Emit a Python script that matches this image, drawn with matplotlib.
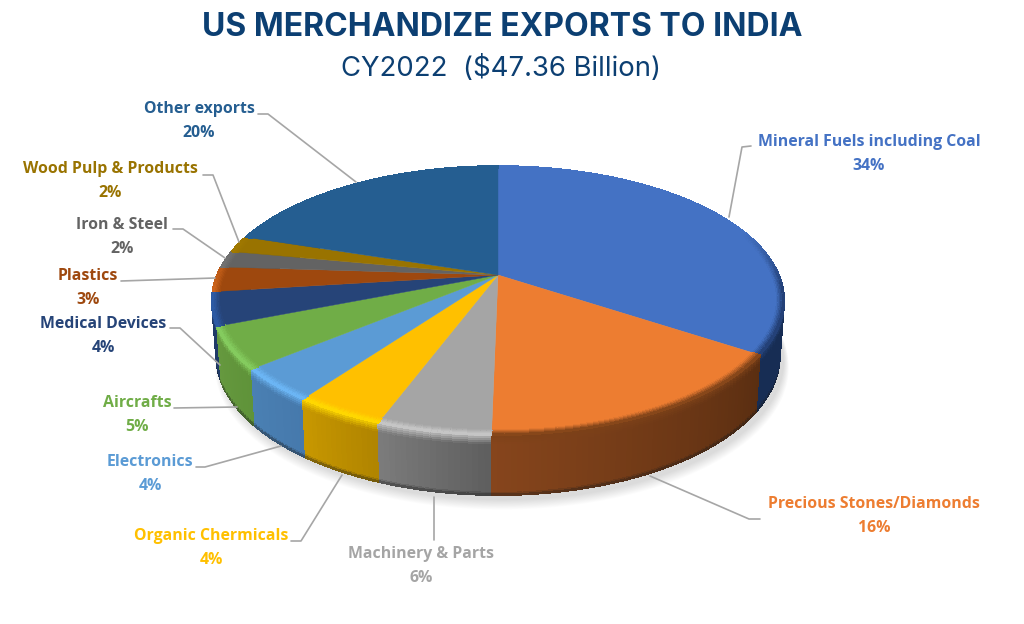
import numpy as np
import matplotlib
matplotlib.use("Agg")
import matplotlib.pyplot as plt
from matplotlib.collections import PolyCollection
from matplotlib.colors import to_rgb
from matplotlib.transforms import Transform

# ---------- data ----------
categories = ["Mineral Fuels including Coal", "Precious Stones/Diamonds", "Machinery & Parts",
              "Organic Chermicals", "Electronics", "Aircrafts", "Medical Devices",
              "Plastics", "Iron & Steel", "Wood Pulp & Products", "Other exports"]
share_labels = ["34%", "16%", "6%", "4%", "4%", "5%", "4%", "3%", "2%", "2%", "20%"]
# sizes (the labels above are rounded)
shares = [34.3, 16.0, 5.4, 4.3, 4.0, 5.0, 4.0, 3.0, 2.0, 2.0, 20.0]

# ---------- styles ----------
face_colors = ["#4472C4", "#ED7D31", "#A5A5A5", "#FFC000", "#5B9BD5", "#70AD47",
               "#264478", "#9E480E", "#636363", "#997300", "#255E91"]
wall_start = ["#172D54", "#5A2E11", "#5E5E5E", "#B08400", "#4679AC", "#5F9339",
              "#1F3A68", "#7A380B", "#4E4E4E", "#775900", "#1C4970"]
wall_end = ["#172D54", "#86451C", "#7C7C7C", "#C89800", "#4A80B3", "#66993F",
            "#1F3A68", "#7A380B", "#4E4E4E", "#775900", "#1C4970"]
rim_colors = ["#203C70", "#7C4118", "#C8C8C8", "#FFD900", "#6DB8F7", "#86CE60",
              "#2E5CA8", "#D0661C", "#808080", "#B88A00", "#2E72B0"]

# ---------- layout (pixels) ----------
label_pos = [(869, 142), (874, 504), (421.5, 554), (211, 536), (150, 462), (137, 403),
             (103, 324), (88, 276), (122, 225), (110, 169), (199, 109)]
LINE_GAP = 24
leaders = [[(751, 146), (742, 147), (729, 217)],
           [(650, 476), (749, 519), (760, 519)],
           [(434, 497), (434, 540)],
           [(342, 475), (301, 541), (291, 541)],
           [(281, 446), (205, 467), (196, 467)],
           [(237, 407), (174, 408)],
           [(170, 328), (180, 328), (220, 365)],
           [(121, 281), (215, 278)],
           [(173, 229), (183, 229), (225, 258)],
           [(203, 175), (213, 175), (239, 242)],
           [(258, 114), (268, 114), (356, 182)]]
CX, CY, A, B, K = 498.0, 275.0, 281.0, 129.7, 0.19


def project(u, v):
    d = 1 + K * v
    return CX + A * u / d, CY - B * v / d


def bottom(x, y):
    return CX + 0.985 * (x - CX), y + 54 + 6 * (y - CY) / 160


class Tilt(Transform):
    input_dims = 2
    output_dims = 2
    is_separable = False
    has_inverse = False

    def transform_non_affine(self, values):
        values = np.asarray(values, dtype=float)
        x, y = project(values[:, 0], values[:, 1])
        return np.column_stack([x, y])


def mix(a, b, t):
    return tuple((1 - t) * p + t * q for p, q in zip(a, b))


plt.rcParams["font.family"] = ["Open Sans", "DejaVu Sans"]
fig = plt.figure(figsize=(10.24, 6.24), dpi=100, facecolor="white")
ax = fig.add_axes([0, 0, 1, 1])

wedges, _ = ax.pie(shares, colors=face_colors, startangle=90, counterclock=False,
                   wedgeprops={"linewidth": 0.3})
ax.set_aspect("auto")
ax.set_xlim(0, 1024)
ax.set_ylim(624, 0)
ax.axis("off")
tilt = Tilt() + ax.transData
for w, c in zip(wedges, face_colors):
    w.set_transform(tilt)
    w.set_edgecolor(c)
    w.set_zorder(2)

# soft shadow under the disc
t = np.radians(np.linspace(0, 360, 241))
sx, sy = bottom(*project(np.cos(t), np.sin(t)))
for i in range(12):
    g = 1 + 0.0016 * i
    ax.fill(CX + 4 + g * (sx - CX), CY + 5 + g * (sy - CY) + i * 0.5,
            color="#808080", alpha=0.025, lw=0, zorder=0.2)

# side wall and bevel, following each wedge's own angles
wall_items, rim_polys, rim_cols = [], [], []
levels = [0, 2, 4, 6, 8, 10, 14, 57.5, 59, 60]
for k, w in enumerate(wedges):
    a1, a2 = w.theta1, w.theta2
    n = max(int(a2 - a1), 2)
    th = np.linspace(a2, a1, n + 1)   # clockwise order, as the shares run
    fc, s, e, rc = map(lambda h: to_rgb(h[k]), (face_colors, wall_start, wall_end, rim_colors))
    for i in range(n):
        t0, t1 = np.radians(th[i]), np.radians(th[i + 1])
        f = (i + 0.5) / n
        base = mix(s, e, f)
        vm = np.sin((t0 + t1) / 2)
        weight = float(np.clip((0.35 - vm) / 0.45, 0, 1))
        hl = mix(fc, rc, weight)
        x0, y0 = project(np.cos(t0), np.sin(t0))
        x1, y1 = project(np.cos(t1), np.sin(t1))
        b0 = bottom(x0, y0)
        b1 = bottom(x1, y1)
        for j in range(len(levels) - 1):
            p, q = levels[j] / 60, levels[j + 1] / 60
            quad = [(x0 + p * (b0[0] - x0), y0 + p * (b0[1] - y0)),
                    (x1 + p * (b1[0] - x1), y1 + p * (b1[1] - y1)),
                    (x1 + q * (b1[0] - x1), y1 + q * (b1[1] - y1)),
                    (x0 + q * (b0[0] - x0), y0 + q * (b0[1] - y0))]
            m = (levels[j] + levels[j + 1]) / 2
            if m < 14:
                col = mix(hl, base, min(m / 10, 1))
            elif m > 58:
                col = mix(base, (0.1, 0.1, 0.1), 0.4 if m > 59 else 0.15)
            else:
                col = base
            wall_items.append(((y0 + y1) / 2 + j * 0.01, quad, col))
        radii = [0.975, 0.98, 0.985, 0.99, 0.995, 1.0]
        for j in range(len(radii) - 1):
            r0, r1 = radii[j], radii[j + 1]
            quad = [project(r0 * np.cos(t0), r0 * np.sin(t0)),
                    project(r0 * np.cos(t1), r0 * np.sin(t1)),
                    project(r1 * np.cos(t1), r1 * np.sin(t1)),
                    project(r1 * np.cos(t0), r1 * np.sin(t0))]
            rim_polys.append(quad)
            rim_cols.append(mix(fc, hl, (j + 0.5) / (len(radii) - 1)))

wall_items.sort(key=lambda item: item[0])
wall_polys = [item[1] for item in wall_items]
wall_cols = [item[2] for item in wall_items]
ax.add_collection(PolyCollection(wall_polys, facecolors=wall_cols, edgecolors=wall_cols,
                                 linewidths=0.5, antialiaseds=False, zorder=1))
ax.add_collection(PolyCollection(rim_polys, facecolors=rim_cols, edgecolors=rim_cols,
                                 linewidths=0.5, antialiaseds=False, zorder=3))

# leaders and labels
for pts in leaders:
    xs, ys = zip(*pts)
    ax.plot(xs, ys, color="#A6A6A6", lw=1.2, zorder=4, solid_capstyle="round")

for name, share, (x, y), c in zip(categories, share_labels, label_pos, face_colors):
    kw = dict(ha="center", va="center", color=c, fontsize=11.45, fontweight="bold", zorder=5)
    ax.text(x, y, name, **kw)
    ax.text(x, y + LINE_GAP, share, **kw)

ax.text(502, 27, "US MERCHANDIZE EXPORTS TO INDIA", ha="center", va="center",
        color="#0C3F72", fontsize=23, fontweight="bold", family=["Inter", "DejaVu Sans"])
ax.text(501, 69, "CY2022  ($47.36 Billion)", ha="center", va="center",
        color="#0C3F72", fontsize=19.8, family=["Inter", "DejaVu Sans"])

fig.savefig("out.png", dpi=100, facecolor="white")
